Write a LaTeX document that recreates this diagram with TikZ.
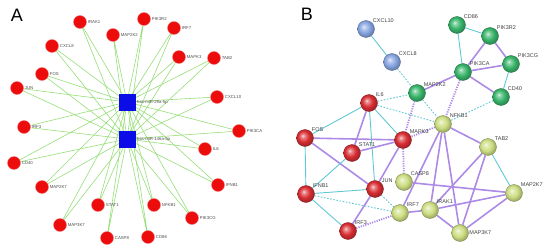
\documentclass[tikz,border=0pt]{standalone}
\usepackage{fontspec}
\setmainfont{Liberation Sans}
\usetikzlibrary{backgrounds}

\definecolor{aedgecol}{RGB}{150,222,120}
\definecolor{mirblue}{RGB}{12,12,232}
\definecolor{genered}{RGB}{236,12,12}
\definecolor{strcyan}{RGB}{95,200,212}
\definecolor{strpurple}{RGB}{172,138,230}
\definecolor{sred}{RGB}{215,45,50}
\definecolor{sblue}{RGB}{135,165,225}
\definecolor{sgreen}{RGB}{55,180,105}
\definecolor{syellow}{RGB}{205,222,130}
\colorlet{protcol}{sred}

% sphere look of the string nodes, lit from the upper left
\pgfdeclareradialshading[protcol]{strball}{\pgfpoint{-7bp}{7bp}}{%
  color(0bp)=(protcol!15!white); color(5bp)=(protcol!55!white);
  color(16bp)=(protcol); color(27bp)=(protcol!75!black);
  color(50bp)=(protcol!75!black)}

\begin{document}
\begin{tikzpicture}[
    x=1pt, y=-1pt,
    panel/.style={font=\fontsize{18}{20}\selectfont},
    gene/.style={circle, fill=genered, draw=genered!55!white, line width=0.4pt,
      minimum size=13pt, inner sep=0pt},
    mir/.style={rectangle, fill=mirblue, minimum size=17pt, inner sep=0pt},
    alab/.style={inner sep=1pt, text=black!70, font=\fontsize{4.3}{5}\selectfont},
    aedge/.style={aedgecol, line width=0.6pt},
    prot/.style={circle, minimum size=17pt, inner sep=0pt,
      /utils/exec={\colorlet{protcol}{#1}}, shading=strball,
      draw=#1!60!black, line width=0.3pt},
    blab/.style={inner sep=0.6pt, text=black!75, font=\fontsize{5.5}{6}\selectfont},
    db/.style={strcyan, line width=0.9pt},
    ex/.style={strpurple, line width=1.6pt},
    tm/.style={strcyan, line width=0.9pt, dash pattern=on 1.6pt off 1.6pt},
    co/.style={strpurple, line width=1.8pt, dash pattern=on 1.2pt off 1.2pt},
  ]
  \useasboundingbox (0,0) rectangle (550,249);

  %% ---- panel A -------------------------------------------------------
  \node[panel] (labA) at (17,15) {A};
  \foreach \g/\x/\y in {IRAK1/80/22, MAP2K2/113/35, PIK3R2/144/19, IRF7/174/28,
      CXCL8/52/46, MAPK3/179/57, TAB2/214/58, FOS/42/74, JUN/17/88,
      CXCL10/217/97, IRF3/24/127, PIK3CA/239/131, IL6/205/149, CD40/14/163,
      IFNB1/218/185, MAP2K7/42/187, STAT1/98/205, NFKB1/154/205,
      PIK3CG/192/218, MAP3K7/60/225, CASP8/107/238, CD86/148/237}
    \node[gene, label={[alab]right:\g}] (a-\g) at (\x,\y) {};
  \node[mir, label={[alab]right:hsa-miR-29a-5p}]  (mirA) at (127,102) {};
  \node[mir, label={[alab]right:hsa-miR-146a-5p}] (mirB) at (127,139) {};

  \begin{scope}[on background layer]
    \foreach \g in {IRAK1, MAP2K2, PIK3R2, IRF7, CXCL8, MAPK3, TAB2, FOS, JUN,
        CXCL10, IRF3, PIK3CA, IL6, CD40, IFNB1, MAP2K7, STAT1, NFKB1,
        PIK3CG, MAP3K7, CASP8, CD86}
      \draw[aedge] (a-\g.center) -- (mirA.center) (a-\g.center) -- (mirB.center);
  \end{scope}

  %% ---- panel B -------------------------------------------------------
  \node[panel] (labB) at (307,14) {B};
  \node[prot=sblue,   label={[blab]above right:CXCL10}] (CXCL10) at (366,29)  {};
  \node[prot=sblue,   label={[blab]above right:CXCL8}]  (CXCL8)  at (392,62)  {};
  \node[prot=sred,    label={[blab]above right:IL6}]    (IL6)    at (369,103) {};
  \node[prot=sgreen,  label={[blab]above right:MAP2K2}] (MAP2K2) at (417,93)  {};
  \node[prot=sgreen,  label={[blab]above right:CD86}]   (CD86)   at (457,25)  {};
  \node[prot=sgreen,  label={[blab]above right:PIK3R2}] (PIK3R2) at (490,36)  {};
  \node[prot=sgreen,  label={[blab]above right:PIK3CG}] (PIK3CG) at (511,64)  {};
  \node[prot=sgreen,  label={[blab]above right:PIK3CA}] (PIK3CA) at (463,72)  {};
  \node[prot=sgreen,  label={[blab]above right:CD40}]   (CD40)   at (501,97)  {};
  \node[prot=syellow, label={[blab]above right:NFKB1}]  (NFKB1)  at (443,124) {};
  \node[prot=sred,    label={[blab]above right:MAPK3}]  (MAPK3)  at (403,140) {};
  \node[prot=sred,    label={[blab]above right:FOS}]    (FOS)    at (305,138) {};
  \node[prot=sred,    label={[blab]above right:STAT1}]  (STAT1)  at (352,153) {};
  \node[prot=sred,    label={[blab]above right:IFNB1}]  (IFNB1)  at (306,194) {};
  \node[prot=sred,    label={[blab]above right:JUN}]    (JUN)    at (375,189) {};
  \node[prot=syellow, label={[blab]above right:CASP8}]  (CASP8)  at (404,182) {};
  \node[prot=sred,    label={[blab]above right:IRF3}]   (IRF3)   at (348,231) {};
  \node[prot=syellow, label={[blab]above right:IRF7}]   (IRF7)   at (400,213) {};
  \node[prot=syellow, label={[blab]above right:IRAK1}]  (IRAK1)  at (430,210) {};
  \node[prot=syellow, label={[blab]right:MAP3K7}]       (MAP3K7) at (460,233) {};
  \node[prot=syellow, label={[blab]above right:TAB2}]   (TAB2)   at (488,147) {};
  \node[prot=syellow, label={[blab]above right:MAP2K7}] (MAP2K7) at (514,193) {};

  \begin{scope}[on background layer]
    \draw[db] (CXCL10) -- (CXCL8);
    \draw[tm] (CXCL8) -- (MAP2K2);
    \draw[tm] (IL6) -- (MAP2K2);
    \draw[tm] (IL6) -- (NFKB1);
    \draw[db] (IL6) -- (FOS);
    \draw[ex] (IL6) -- (STAT1);
    \draw[db] (IL6) -- (JUN);
    \draw[db] (IL6) -- (MAPK3);
    \draw[ex] (MAP2K2) -- (PIK3CA);
    \draw[co] (MAP2K2) -- (MAPK3);
    \draw[tm] (MAP2K2) -- (NFKB1);
    \draw[co] (PIK3CA) -- (NFKB1);
    \draw[db] (PIK3CA) -- (CD86);
    \draw[ex] (PIK3CA) -- (PIK3R2);
    \draw[ex] (PIK3CA) -- (PIK3CG);
    \draw[ex] (PIK3CA) -- (CD40);
    \draw[db] (CD86) -- (PIK3R2);
    \draw[ex] (PIK3R2) -- (PIK3CG);
    \draw[db] (PIK3CG) -- (CD40);
    \draw[tm] (CD40) -- (NFKB1);
    \draw[co] (NFKB1) -- (MAPK3);
    \draw[ex] (NFKB1) -- (TAB2);
    \draw[ex] (NFKB1) -- (IRAK1);
    \draw[ex] (NFKB1) -- (MAP3K7);
    \draw[ex] (NFKB1) -- (IRF7);
    \draw[ex] (MAPK3) -- (FOS);
    \draw[ex] (MAPK3) -- (STAT1);
    \draw[ex] (MAPK3) -- (JUN);
    \draw[co] (MAPK3) -- (CASP8);
    \draw[ex] (FOS) -- (JUN);
    \draw[db] (FOS) -- (IFNB1);
    \draw[db] (STAT1) -- (IFNB1);
    \draw[db] (IFNB1) -- (JUN);
    \draw[db] (IFNB1) -- (IRF3);
    \draw[tm] (IFNB1) -- (IRF7);
    \draw[ex] (JUN) -- (IRF3);
    \draw[tm] (JUN) -- (IRF7);
    \draw[co] (IRF3) -- (IRF7);
    \draw[ex] (IRF7) -- (IRAK1);
    \draw[ex] (IRAK1) -- (MAP3K7);
    \draw[ex] (CASP8) -- (MAP2K7);
    \draw[ex] (IRAK1) -- (MAP2K7);
    \draw[ex] (MAP3K7) -- (MAP2K7);
    \draw[ex] (IRAK1) -- (TAB2);
    \draw[ex] (MAP3K7) -- (TAB2);
    \draw[db] (TAB2) -- (MAP2K7);
  \end{scope}
\end{tikzpicture}
\end{document}
